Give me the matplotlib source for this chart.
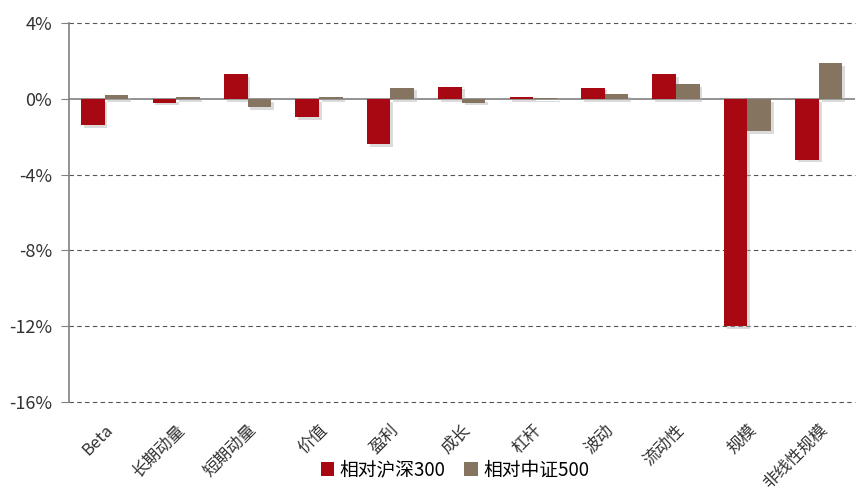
import matplotlib
matplotlib.use("Agg")
import matplotlib.pyplot as plt
import matplotlib.patheffects as pe
from matplotlib.patches import Patch
import numpy as np

plt.rcParams['font.family'] = ['Noto Sans CJK SC', 'DejaVu Sans']

categories = ["Beta", "长期动量", "短期动量", "价值", "盈利", "成长", "杠杆", "波动", "流动性", "规模", "非线性规模"]
rel_hs300 = [-1.4, -0.2, 1.3, -0.95, -2.4, 0.65, 0.1, 0.6, 1.3, -12.0, -3.2]
rel_zz500 = [0.2, 0.1, -0.45, 0.1, 0.6, -0.2, 0.05, 0.25, 0.8, -1.7, 1.9]
series_names = ["相对沪深300", "相对中证500"]
yticks = [4, 0, -4, -8, -12, -16]
colors = ['#A80812', '#857560']

fig = plt.figure(figsize=(8.67, 4.92), dpi=100)
ax = fig.add_axes([0.0796, 0.183, 0.906, 0.770])

x = np.arange(len(categories))
w = 0.33
shadow = [pe.SimplePatchShadow(offset=(2, -2), shadow_rgbFace='#b0b0b0', alpha=0.45), pe.Normal()]
b1 = ax.bar(x - w / 2, rel_hs300, w, color=colors[0], zorder=3)
b2 = ax.bar(x + w / 2, rel_zz500, w, color=colors[1], zorder=3)
for b in list(b1) + list(b2):
    b.set_path_effects(shadow)

ax.set_xlim(-0.5, len(categories) - 0.5)
ax.set_ylim(-16, 4)
ax.set_yticks(yticks)
ax.set_yticklabels([f"{v}%" for v in yticks], fontsize=13, color='#333333')
for v in yticks:
    if v == 0:
        ax.axhline(v, color='#808080', lw=1.2, zorder=2)
    else:
        ax.axhline(v, color='#555555', lw=0.8, ls=(0, (4, 3)), zorder=1, clip_on=False)

ax.set_xticks(x)
ax.set_xticklabels(categories, rotation=45, ha='right', rotation_mode='anchor', fontsize=12, color='#333333')
ax.tick_params(axis='x', length=0, pad=14)
ax.tick_params(axis='y', length=6, color='#808080', pad=6)

for s in ['top', 'right', 'bottom']:
    ax.spines[s].set_visible(False)
ax.spines['left'].set_color('#808080')
ax.spines['left'].set_linewidth(1.2)

handles = [Patch(facecolor=c) for c in colors]
fig.legend(handles=handles, labels=series_names, loc='center', bbox_to_anchor=(0.525, 0.045),
           ncol=2, frameon=False, fontsize=13.5, handlelength=0.7, handleheight=0.8,
           handletextpad=0.3, columnspacing=1.0)

fig.savefig("out.png", dpi=100)
